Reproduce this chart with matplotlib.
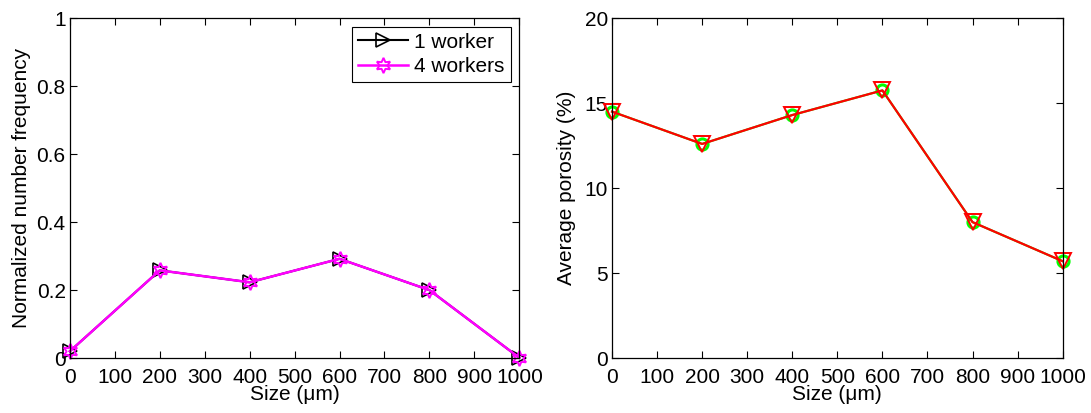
import matplotlib
matplotlib.use("Agg")
import matplotlib.pyplot as plt

plt.rcParams['font.family'] = ['Liberation Sans', 'DejaVu Sans']
plt.rcParams['font.size'] = 15

sizes = [0, 200, 400, 600, 800, 1000]
freq_1w = [0.020, 0.258, 0.223, 0.292, 0.200, 0.001]
freq_4w = [0.020, 0.258, 0.223, 0.292, 0.200, 0.001]
porosity_a = [14.5, 12.6, 14.3, 15.75, 8.0, 5.7]
porosity_b = [14.5, 12.6, 14.3, 15.75, 8.0, 5.7]

xticks = list(range(0, 1001, 100))


def style_axes(ax):
    ax.tick_params(direction='in', top=True, right=True, length=5, width=0.8,
                   labelsize=15, pad=3)
    ax.tick_params(axis='x', pad=7)
    for s in ax.spines.values():
        s.set_linewidth(0.9)
    ax.set_xlim(0, 1000)
    ax.set_xticks(xticks)
    ax.set_xlabel('Size (\u03bcm)', fontsize=15, labelpad=-1)


fig = plt.figure(figsize=(10.91, 4.13), dpi=100)
ax1 = fig.add_axes([0.064, 0.133, 0.412, 0.823])
ax2 = fig.add_axes([0.561, 0.133, 0.413, 0.823])

ax1.plot(sizes, freq_1w, color='black', lw=1.5, marker='>', ms=10,
         mfc='none', mec='black', mew=1.2, label='1 worker', clip_on=False)
ax1.plot(sizes, freq_4w, color='magenta', lw=1.8, marker=(6, 1, 0), ms=11,
         mfc='none', mec='magenta', mew=1.4, label='4 workers', clip_on=False)
style_axes(ax1)
ax1.set_ylim(0, 1)
ax1.set_yticks([0, 0.2, 0.4, 0.6, 0.8, 1])
ax1.set_yticklabels(['0', '0.2', '0.4', '0.6', '0.8', '1'])
ax1.set_ylabel('Normalized number frequency', fontsize=15, labelpad=4)
leg = ax1.legend(loc='upper right', fontsize=15, fancybox=False, framealpha=1,
                 edgecolor='black', borderaxespad=0.4, handlelength=2.4,
                 handletextpad=0.3, borderpad=0.3, labelspacing=0.25)
leg.get_frame().set_linewidth(0.8)

ax2.plot(sizes, porosity_a, color='lime', lw=1.5, marker='o', ms=8,
         mfc='none', mec='lime', mew=2.2, clip_on=False)
ax2.plot(sizes, porosity_b, color='red', lw=1.6, marker='v', ms=11,
         mfc='none', mec='red', mew=1.4, clip_on=False)
style_axes(ax2)
ax2.set_ylim(0, 20)
ax2.set_yticks([0, 5, 10, 15, 20])
ax2.set_ylabel('Average porosity (%)', fontsize=15, labelpad=6)

fig.savefig('out.png', dpi=100)
